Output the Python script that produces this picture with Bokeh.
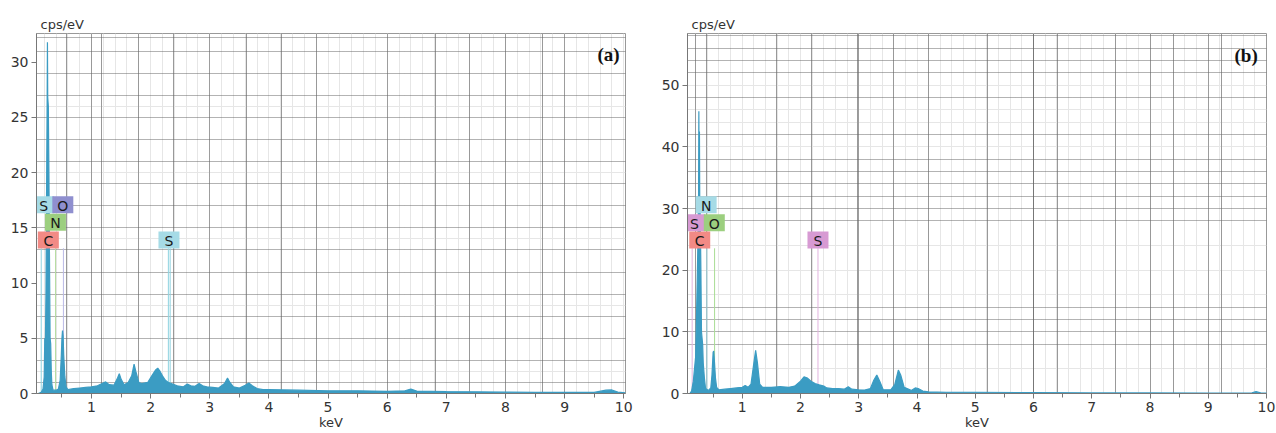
from bokeh.plotting import figure
from bokeh.layouts import row
from bokeh.models import Range1d, FixedTicker, Grid, Label
from bokeh.core.properties import value
from bokeh.embed import file_html
from bokeh.resources import INLINE

# ---------------- data: panel (a) ----------------
energy_a = [0.10, 0.15, 0.18, 0.20, 0.21, 0.22, 0.23, 0.24, 0.25, 0.255, 0.26, 0.27, 0.28, 0.29,
            0.30, 0.31, 0.32, 0.33, 0.35, 0.40, 0.44, 0.47, 0.49, 0.50, 0.51, 0.52, 0.53, 0.55,
            0.57, 0.60, 0.70, 0.80, 0.90, 1.00, 1.10, 1.18, 1.24, 1.30, 1.38, 1.44, 1.47, 1.50,
            1.55, 1.62, 1.68, 1.72, 1.75, 1.80, 1.85, 1.95, 2.02, 2.08, 2.12, 2.16, 2.20, 2.25,
            2.30, 2.35, 2.45, 2.55, 2.62, 2.68, 2.75, 2.82, 2.88, 2.95, 3.05, 3.15, 3.25, 3.30,
            3.34, 3.40, 3.50, 3.60, 3.66, 3.72, 3.80, 3.90, 4.00, 4.50, 5.00, 5.50, 6.00, 6.30,
            6.40, 6.50, 7.00, 7.50, 8.00, 8.50, 9.00, 9.50, 9.70, 9.80, 9.90, 10.03]
counts_a = [0.0, 0.1, 0.4, 1.5, 5.0, 4.5, 9.0, 18.0, 26.5, 31.8, 26.8, 26.0, 20.0, 12.0,
            5.0, 4.5, 2.0, 0.8, 0.3, 0.3, 0.4, 1.2, 3.5, 5.0, 5.7, 5.2, 3.5, 1.5,
            0.6, 0.35, 0.45, 0.5, 0.55, 0.6, 0.7, 0.9, 1.05, 0.8, 0.75, 1.4, 1.8, 1.3,
            0.8, 1.0, 1.6, 2.65, 2.0, 1.0, 0.9, 1.0, 1.6, 2.1, 2.3, 2.0, 1.6, 1.2,
            1.0, 0.9, 0.7, 0.6, 0.85, 0.7, 0.65, 0.9, 0.7, 0.6, 0.55, 0.5, 0.9, 1.4,
            1.0, 0.6, 0.5, 0.75, 0.95, 0.7, 0.45, 0.35, 0.35, 0.3, 0.25, 0.25, 0.2, 0.25,
            0.4, 0.22, 0.18, 0.15, 0.12, 0.1, 0.1, 0.1, 0.3, 0.32, 0.12, 0.05]

labels_a = ["S", "O", "N", "C", "S"]
label_energy_a = [0.19, 0.515, 0.39, 0.27, 2.31]
label_level_a = [17.1, 17.1, 15.5, 13.9, 13.9]
label_colors_a = ["#a6dbe6", "#8f8fcf", "#9ccf7f", "#f28a85", "#a6dbe6"]
marker_energy_a = [0.15, 0.277, 0.392, 0.525, 2.30, 2.33]
marker_colors_a = ["#8fd3e0", "#f2a6a2", "#b5dca0", "#b9b9e6", "#8fd3e0", "#8fd3e0"]

# ---------------- data: panel (b) ----------------
energy_b = [0.10, 0.13, 0.16, 0.20, 0.22, 0.24, 0.25, 0.255, 0.26, 0.265, 0.27, 0.28,
            0.29, 0.30, 0.32, 0.33, 0.35, 0.37, 0.42, 0.46, 0.48, 0.50, 0.51, 0.52, 0.54, 0.56, 0.60,
            0.70, 0.80, 0.90, 1.00, 1.05, 1.10, 1.15, 1.20, 1.23, 1.26, 1.30, 1.35, 1.50, 1.65,
            1.80, 1.90, 2.00, 2.06, 2.12, 2.18, 2.25, 2.32, 2.40, 2.45, 2.55, 2.65, 2.75, 2.82,
            2.88, 3.00, 3.10, 3.20, 3.26, 3.31, 3.36, 3.42, 3.55, 3.62, 3.68, 3.72, 3.78, 3.90,
            3.97, 4.02, 4.10, 4.20, 4.50, 5.00, 6.00, 7.00, 8.00, 9.00, 9.75, 9.82, 9.90, 10.02]
counts_b = [0.0, 0.4, 2.0, 6.0, 15.0, 25.0, 32.0, 45.8, 33.0, 42.5, 32.0, 28.0,
            20.0, 10.0, 8.0, 5.0, 2.5, 0.8, 0.5, 0.9, 3.0, 6.7, 6.9, 5.5, 2.5, 1.0, 0.6,
            0.7, 0.8, 0.9, 1.0, 1.3, 1.0, 1.5, 5.0, 7.0, 5.0, 1.5, 1.0, 1.0, 1.1,
            1.0, 1.2, 2.0, 2.7, 2.5, 2.0, 1.6, 1.4, 1.2, 0.9, 0.8, 0.8, 0.7, 1.1,
            0.7, 0.6, 0.55, 0.8, 2.2, 3.0, 2.0, 0.6, 0.6, 1.5, 3.8, 3.0, 1.0, 0.5,
            0.9, 0.8, 0.4, 0.25, 0.2, 0.2, 0.15, 0.1, 0.1, 0.08, 0.1, 0.3, 0.1, 0.05]

labels_b = ["N", "S", "O", "C", "S"]
label_energy_b = [0.38, 0.18, 0.52, 0.27, 2.30]
label_level_b = [30.6, 27.7, 27.7, 24.9, 24.9]
label_colors_b = ["#a6dbe6", "#d79ad3", "#9ccf7f", "#f28a85", "#d79ad3"]
marker_energy_b = [0.14, 0.277, 0.392, 0.525, 2.30]
marker_colors_b = ["#e2b3df", "#f2a6a2", "#a6dbe6", "#a9dd94", "#e2b3df"]

x_ticks = [1, 2, 3, 4, 5, 6, 7, 8, 9, 10]
y_ticks_a = [0, 5, 10, 15, 20, 25, 30]
y_ticks_b = [0, 10, 20, 30, 40, 50]

FILL = "#3b9cc3"
FONT = "DejaVu Sans"


def make_panel(energy, counts, labels, lab_x, lab_y, lab_col, mk_x, mk_col,
               y_end, y_ticks, hgrid_dotted, hgrid_light, vgrid_dark, tag, tag_x, tag_y,
               width, bl, br, x_start, x_end):
    p = figure(width=width, height=433, output_backend="svg", toolbar_location=None,
               x_range=Range1d(x_start, x_end), y_range=Range1d(0, y_end),
               min_border_left=bl, min_border_right=br, min_border_top=33, min_border_bottom=40,
               background_fill_color="white", border_fill_color="white")
    p.outline_line_color = "#999999"
    p.xgrid.visible = False
    p.ygrid.visible = False

    # grids (styling)
    light_v = [round(0.2 * i, 2) for i in range(1, 51)]
    p.add_layout(Grid(dimension=0, ticker=FixedTicker(ticks=light_v),
                      grid_line_color="#e6e6e6", grid_line_width=1))
    p.add_layout(Grid(dimension=1, ticker=FixedTicker(ticks=hgrid_light),
                      grid_line_color="#e6e6e6", grid_line_width=1))
    p.add_layout(Grid(dimension=0, ticker=FixedTicker(ticks=vgrid_dark),
                      grid_line_color="#999999", grid_line_width=1))
    p.add_layout(Grid(dimension=0, ticker=FixedTicker(ticks=[3, 6, 9]),
                      grid_line_color="#555555", grid_line_width=1, grid_line_dash="1 1"))
    p.add_layout(Grid(dimension=1, ticker=FixedTicker(ticks=hgrid_dotted),
                      grid_line_color="#666666", grid_line_width=1, grid_line_dash="1 1"))

    # element marker lines
    p.segment(x0=mk_x, y0=[0] * len(mk_x), x1=mk_x, y1=[min(lab_y) - 0.75 * (y_end / 32.6)] * len(mk_x),
              line_color=mk_col, line_width=1)

    # spectrum
    p.varea(x=energy, y1=[0] * len(energy), y2=counts, fill_color=FILL)
    p.line(x=energy, y=counts, line_color=FILL, line_width=1.2)

    # element label boxes
    p.rect(x=lab_x, y=lab_y, width=21, height=17, width_units="screen", height_units="screen",
           fill_color=lab_col, line_color=None)
    p.text(x=lab_x, y=lab_y, text=labels, text_align="center", text_baseline="middle",
           text_font=value(FONT), text_font_size="14px", text_color="#1a1a1a", y_offset=1)

    p.add_layout(Label(x=tag_x, y=tag_y, text=tag, text_align="right", text_baseline="middle",
                       text_font="Liberation Serif", text_font_style="bold",
                       text_font_size="19px", text_color="#111111"))

    # axes
    p.xaxis.ticker = FixedTicker(ticks=x_ticks, minor_ticks=[round(0.5 + i, 1) for i in range(10)])
    p.yaxis.ticker = FixedTicker(ticks=y_ticks)
    for ax in (p.xaxis[0], p.yaxis[0]):
        ax.major_label_text_font = FONT
        ax.major_label_text_font_size = "14px"
        ax.major_label_text_color = "#333333"
        ax.axis_line_color = "#777777"
        ax.major_tick_line_color = "#777777"
        ax.minor_tick_line_color = "#777777"
        ax.major_tick_in = 0
        ax.major_tick_out = 5
        ax.minor_tick_in = 0
        ax.minor_tick_out = 4
        ax.major_label_standoff = 3
    p.yaxis.minor_tick_out = 0
    p.xaxis.axis_label = "keV"
    p.xaxis.axis_label_text_font = FONT
    p.xaxis.axis_label_text_font_size = "13px"
    p.xaxis.axis_label_text_font_style = "normal"
    p.xaxis.axis_label_text_color = "#333333"
    p.xaxis.axis_label_standoff = 0

    p.title.text = "cps/eV"
    p.title.align = "left"
    p.title.offset = 4
    p.title.standoff = 4
    p.title.text_font = FONT
    p.title.text_font_style = "normal"
    p.title.text_font_size = "13px"
    p.title.text_color = "#333333"
    return p


pa = make_panel(energy_a, counts_a, labels_a, label_energy_a, label_level_a, label_colors_a,
                marker_energy_a, marker_colors_a, 32.6, y_ticks_a,
                [1, 3, 5, 7, 9, 11, 13, 15, 17, 19, 21, 23, 25, 27, 29, 31, 32.2],
                [2, 8, 14, 20, 26],
                [0.58, 1.0, 1.17, 1.79, 2.39, 3.62, 4.21, 4.8, 6.82, 7.4, 8.0, 8.62],
                "(a)", 9.93, 30.7, 648, 36, 23, 0.07, 10.03)

pb = make_panel(energy_b, counts_b, labels_b, label_energy_b, label_level_b, label_colors_b,
                marker_energy_b, marker_colors_b, 58.4, y_ticks_b,
                [8, 10, 12, 14, 28, 30, 32, 34, 36, 38, 42, 48, 52, 54, 56, 58],
                [4, 16, 20, 24, 40, 44, 46, 50],
                [0.19, 0.39, 1.59, 2.19, 2.98, 3.6, 4.2, 5.21, 6.0, 6.41, 7.41, 8.0, 8.41, 9.22],
                "(b)", 9.85, 54.9, 628, 39, 10, 0.06, 10.0)

layout = row(pa, pb)
open("out.html", "w").write(file_html(layout, INLINE))
